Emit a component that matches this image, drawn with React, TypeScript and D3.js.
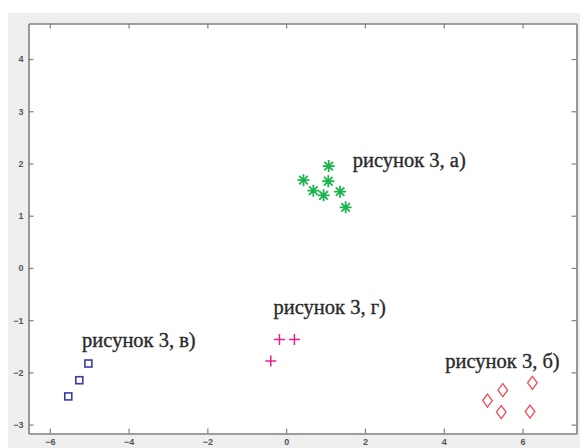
import React, { useEffect, useRef } from 'react';
import * as d3 from 'd3';

// cluster points
const groupA = [[1.08, 1.95], [0.44, 1.68], [1.07, 1.66], [0.69, 1.48], [0.95, 1.39], [1.37, 1.46], [1.51, 1.16]];
const groupB = [[6.25, -2.2], [5.5, -2.34], [5.11, -2.54], [5.46, -2.76], [6.19, -2.75]];
const groupV = [[-5.02, -1.83], [-5.25, -2.15], [-5.53, -2.46]];
const groupG = [[-0.17, -1.37], [0.21, -1.37], [-0.39, -1.78]];

const xTicks = [-6, -4, -2, 0, 2, 4, 6];
const yTicks = [-3, -2, -1, 0, 1, 2, 3, 4];

const labels = [
  { text: 'рисунок 3, а)', x: 1.69, y: 1.93 },
  { text: 'рисунок 3, б)', x: 4.04, y: -1.92 },
  { text: 'рисунок 3, в)', x: -5.18, y: -1.52 },
  { text: 'рисунок 3, г)', x: -0.32, y: -0.88 },
];

const App = () => {
  const svgRef = useRef<SVGSVGElement>(null);

  useEffect(() => {
    const svg = d3.select(svgRef.current);
    const width = 580;
    const height = 448;
    const plot = { left: 28.5, right: 576.5, top: 23.5, bottom: 433.5 };

    svg.selectAll('*').remove();

    const x = d3.scaleLinear().domain([-6.54, 7.37]).range([plot.left, plot.right]);
    const y = d3.scaleLinear().domain([-3.17, 4.68]).range([plot.bottom, plot.top]);

    // figure background
    svg.append('rect').attr('x', 8).attr('y', 13).attr('width', width - 8).attr('height', height - 13).attr('fill', '#efefef');
    svg.append('rect')
      .attr('x', plot.left).attr('y', plot.top)
      .attr('width', plot.right - plot.left).attr('height', plot.bottom - plot.top)
      .attr('fill', '#fff');

    const axisColor = '#808080';
    const tickLen = 5;

    const bottom = svg.append('g').attr('transform', `translate(0,${plot.bottom})`)
      .call(d3.axisBottom(x).tickValues(xTicks).tickSizeInner(-tickLen).tickSizeOuter(0).tickPadding(5));
    const top = svg.append('g').attr('transform', `translate(0,${plot.top})`)
      .call(d3.axisTop(x).tickValues(xTicks).tickSizeInner(-tickLen).tickSizeOuter(0).tickFormat(() => ''));
    const left = svg.append('g').attr('transform', `translate(${plot.left},0)`)
      .call(d3.axisLeft(y).tickValues(yTicks).tickSizeInner(-tickLen).tickSizeOuter(0).tickPadding(5));
    const right = svg.append('g').attr('transform', `translate(${plot.right},0)`)
      .call(d3.axisRight(y).tickValues(yTicks).tickSizeInner(-tickLen).tickSizeOuter(0).tickFormat(() => ''));

    [bottom, top, left, right].forEach(g => {
      g.select('.domain').attr('stroke', axisColor).attr('stroke-width', 1.6);
      g.selectAll('.tick line').attr('stroke', axisColor).attr('stroke-width', 1.2);
      g.selectAll('.tick text')
        .attr('fill', '#555')
        .attr('font-family', 'Liberation Sans, Arial, sans-serif')
        .attr('font-weight', 'bold')
        .attr('font-size', 9);
    });

    const marks = svg.append('g');

    // green asterisks
    marks.selectAll('path.a')
      .data(groupA)
      .join('path')
      .attr('class', 'a')
      .attr('transform', d => `translate(${x(d[0])},${y(d[1])})`)
      .attr('d', 'M-6,0H6M0,-6V6M-4.3,-4.3L4.3,4.3M-4.3,4.3L4.3,-4.3')
      .attr('stroke', '#1db34d')
      .attr('stroke-width', 1.8)
      .attr('fill', 'none');

    // red diamonds
    marks.selectAll('path.b')
      .data(groupB)
      .join('path')
      .attr('class', 'b')
      .attr('transform', d => `translate(${x(d[0])},${y(d[1])})`)
      .attr('d', 'M0,-6.5L4.8,0L0,6.5L-4.8,0Z')
      .attr('stroke', '#f04a55')
      .attr('stroke-width', 1.3)
      .attr('fill', 'none');

    // blue squares
    marks.selectAll('rect.v')
      .data(groupV)
      .join('rect')
      .attr('class', 'v')
      .attr('x', d => x(d[0]) - 3.5)
      .attr('y', d => y(d[1]) - 3.5)
      .attr('width', 7)
      .attr('height', 7)
      .attr('stroke', '#3b3ba8')
      .attr('stroke-width', 1.6)
      .attr('fill', 'none');

    // magenta pluses
    marks.selectAll('path.g')
      .data(groupG)
      .join('path')
      .attr('class', 'g')
      .attr('transform', d => `translate(${x(d[0])},${y(d[1])})`)
      .attr('d', 'M-5.5,0H5.5M0,-5.5V5.5')
      .attr('stroke', '#ec1f8c')
      .attr('stroke-width', 1.5)
      .attr('fill', 'none');

    svg.append('g')
      .selectAll('text')
      .data(labels)
      .join('text')
      .attr('x', d => x(d.x))
      .attr('y', d => y(d.y))
      .attr('font-family', 'Liberation Serif, serif')
      .attr('font-size', 20.5)
      .attr('fill', '#2a2a2a')
      .attr('stroke', '#2a2a2a')
      .attr('stroke-width', 0.35)
      .text(d => d.text);
  }, []);

  return (
    <svg
      ref={svgRef}
      width="580"
      height="448"
      style={{ position: 'absolute', left: 0, top: 0, background: '#fff' }}
    ></svg>
  );
};

export default App;
